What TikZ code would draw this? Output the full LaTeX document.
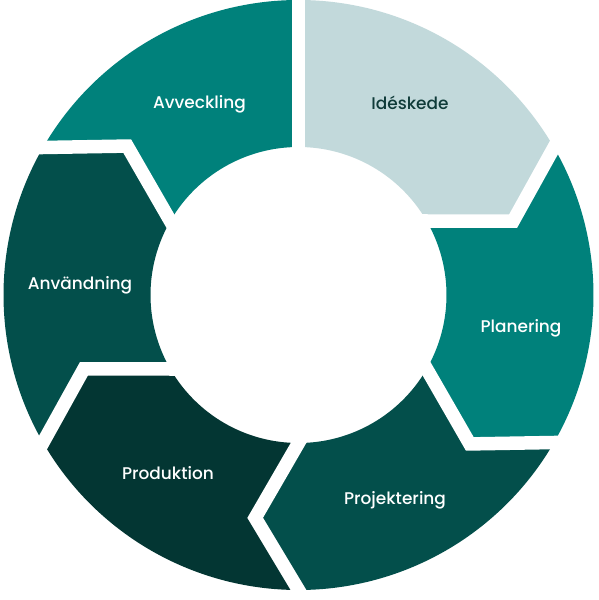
\documentclass[tikz,border=0pt]{standalone}
\usepackage{fontspec}
\setmainfont{Poppins}[UprightFont={* Medium}]
\usetikzlibrary{calc}
\definecolor{phaseLight}{HTML}{C2D9DB}
\definecolor{phaseTeal}{HTML}{00817B}
\definecolor{phaseDark}{HTML}{034F4B}
\definecolor{phaseDeep}{HTML}{033633}
\definecolor{labelDark}{HTML}{0F3B39}
\begin{document}
\begin{tikzpicture}[
    phase/.style={draw=none},
    gapline/.style={white, line width=13.5bp, line join=miter},
    phaselabel/.style={anchor=base, font=\fontsize{17}{20}\selectfont, text=white, inner sep=0pt}
]
\useasboundingbox (-298.5bp,-305bp) rectangle (300.5bp,295bp);

% Segments (outer 295, inner 148, tip at 227)
\fill[phase, phaseLight] (90:295bp) arc[start angle=90, end angle=30, radius=295bp]
    -- (19:227bp) -- (30:148bp) arc[start angle=30, end angle=90, radius=148bp] -- cycle;
\fill[phase, phaseTeal] (30:295bp) arc[start angle=30, end angle=-30, radius=295bp]
    -- (-41:227bp) -- (-30:148bp) arc[start angle=-30, end angle=30, radius=148bp]
    -- (19:227bp) -- cycle;
\fill[phase, phaseDark] (-30:295bp) arc[start angle=-30, end angle=-90, radius=295bp]
    -- (-101:227bp) -- (-90:148bp) arc[start angle=-90, end angle=-30, radius=148bp]
    -- (-41:227bp) -- cycle;
\fill[phase, phaseDeep] (-90:295bp) arc[start angle=-90, end angle=-150, radius=295bp]
    -- (-161:227bp) -- (-150:148bp) arc[start angle=-150, end angle=-90, radius=148bp]
    -- (-101:227bp) -- cycle;
\fill[phase, phaseDark] (-150:295bp) arc[start angle=-150, end angle=-210, radius=295bp]
    -- (-221:227bp) -- (-210:148bp) arc[start angle=-210, end angle=-150, radius=148bp]
    -- (-161:227bp) -- cycle;
\fill[phase, phaseTeal] (-210:295bp) arc[start angle=-210, end angle=-270, radius=295bp]
    -- (-270:148bp) arc[start angle=-270, end angle=-210, radius=148bp]
    -- (-221:227bp) -- cycle;

% Gaps
\draw[gapline] (90:135bp) -- (90:310bp);
\draw[gapline] ($(19:227bp)!1.25!(30:148bp)$) -- (19:227bp) -- ($(19:227bp)!1.25!(30:295bp)$);
\draw[gapline] ($(-41:227bp)!1.25!(-30:148bp)$) -- (-41:227bp) -- ($(-41:227bp)!1.25!(-30:295bp)$);
\draw[gapline] ($(-101:227bp)!1.25!(-90:148bp)$) -- (-101:227bp) -- ($(-101:227bp)!1.25!(-90:295bp)$);
\draw[gapline] ($(-161:227bp)!1.25!(-150:148bp)$) -- (-161:227bp) -- ($(-161:227bp)!1.25!(-150:295bp)$);
\draw[gapline] ($(-221:227bp)!1.25!(-210:148bp)$) -- (-221:227bp) -- ($(-221:227bp)!1.25!(-210:295bp)$);

% Labels
\node[phaselabel, text=labelDark] (idea) at (111.5bp,185bp) {Idéskede};
\node[phaselabel] (planning) at (222.5bp,-37bp) {Planering};
\node[phaselabel] (design) at (96.5bp,-209bp) {Projektering};
\node[phaselabel] (production) at (-130.5bp,-184bp) {Produktion};
\node[phaselabel] (usage) at (-218.5bp,6bp) {Användning};
\node[phaselabel] (closing) at (-99bp,186bp) {Avveckling};

\end{tikzpicture}
\end{document}
